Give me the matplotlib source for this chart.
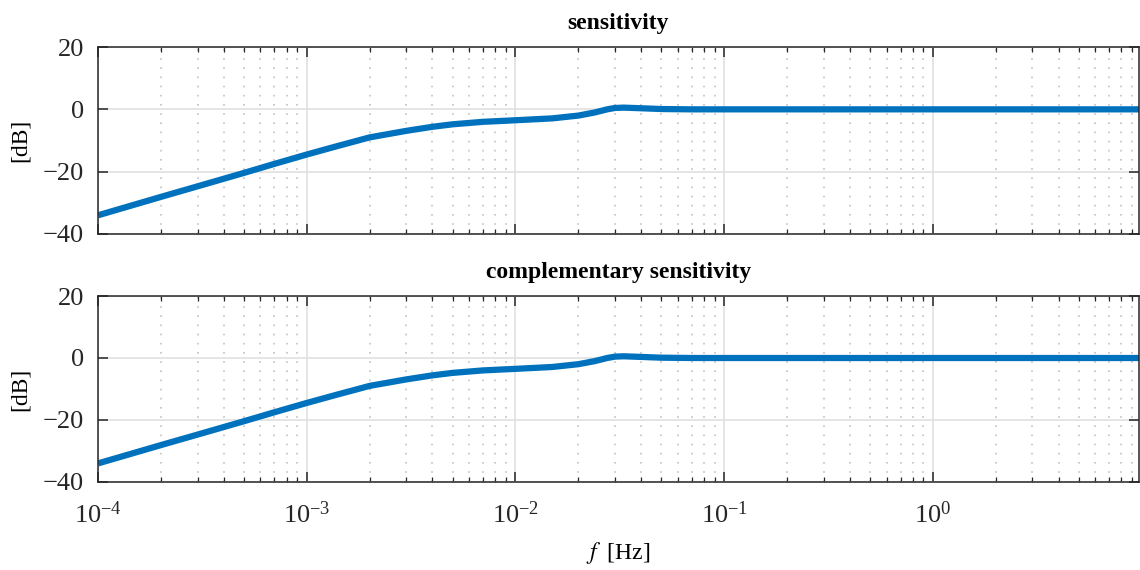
import matplotlib
matplotlib.use("Agg")
import matplotlib.pyplot as plt
from matplotlib.ticker import LogLocator, NullFormatter
import numpy as np

plt.rcParams['font.family'] = ['Liberation Serif', 'DejaVu Serif']
plt.rcParams['mathtext.fontset'] = 'stix'
plt.rcParams['axes.unicode_minus'] = True

# Data (frequency in Hz, magnitude in dB)
freq = [1e-4, 2e-4, 3e-4, 5e-4, 7e-4, 1e-3, 1.4e-3, 2e-3, 3e-3, 4e-3, 5e-3, 7e-3,
        1e-2, 1.5e-2, 2e-2, 2.4e-2, 2.75e-2, 3e-2, 3.3e-2, 4e-2, 5e-2, 7e-2, 1e-1, 1.0, 10.0]
sens_db = [-34.0, -28.1, -24.7, -20.4, -17.5, -14.5, -11.8, -9.0, -6.9, -5.6, -4.8, -4.0,
           -3.5, -2.9, -2.0, -1.0, 0.0, 0.45, 0.55, 0.35, 0.1, 0.0, 0.0, 0.0, 0.0]
comp_db = [-34.0, -28.1, -24.7, -20.4, -17.5, -14.5, -11.8, -9.0, -6.9, -5.6, -4.8, -4.0,
           -3.5, -2.9, -2.0, -1.0, 0.0, 0.45, 0.55, 0.35, 0.1, 0.0, 0.0, 0.0, 0.0]
titles = ['sensitivity', 'complementary sensitivity']
yticks = [-40, -20, 0, 20]

fig = plt.figure(figsize=(11.4, 5.7), dpi=100)
ax1 = fig.add_axes([0.086, 0.5895, 0.913, 0.328])
ax2 = fig.add_axes([0.086, 0.1544, 0.913, 0.3263], sharex=ax1)

for ax, data, title in zip([ax1, ax2], [sens_db, comp_db], titles):
    ax.semilogx(freq, data, color='#0072BD', lw=4.5, solid_capstyle='butt',
                solid_joinstyle='round')
    ax.set_xlim(1e-4, 9.7)
    ax.set_ylim(-40, 20)
    ax.set_yticks(yticks)
    ax.set_title(title, fontsize=17, fontweight='bold', pad=13)
    ax.set_ylabel('[dB]', fontsize=17, labelpad=9)
    ax.xaxis.set_major_locator(LogLocator(base=10, numticks=10))
    ax.xaxis.set_minor_locator(LogLocator(base=10, subs=np.arange(2, 10), numticks=100))
    ax.xaxis.set_minor_formatter(NullFormatter())
    ax.grid(True, which='major', color='#e0e0e0', lw=1.2, ls='-')
    ax.grid(True, which='minor', axis='x', color='#c2c2c2', lw=1.2, ls=(0, (1, 4.5)))
    ax.set_axisbelow(True)
    ax.tick_params(which='both', direction='in', top=True, right=True,
                   colors='#262626', labelsize=19)
    ax.tick_params(which='major', length=7.5, width=1.1)
    ax.tick_params(which='minor', length=3.6, width=0.9)
    ax.tick_params(axis='y', pad=10)
    ax.tick_params(axis='x', pad=14)
    for s in ax.spines.values():
        s.set_color('#262626')
        s.set_linewidth(1.1)

ax1.tick_params(labelbottom=False)
ax2.set_xlabel('$f$\u2009 [Hz]', fontsize=17, labelpad=9)

fig.savefig('out.png', dpi=100)
